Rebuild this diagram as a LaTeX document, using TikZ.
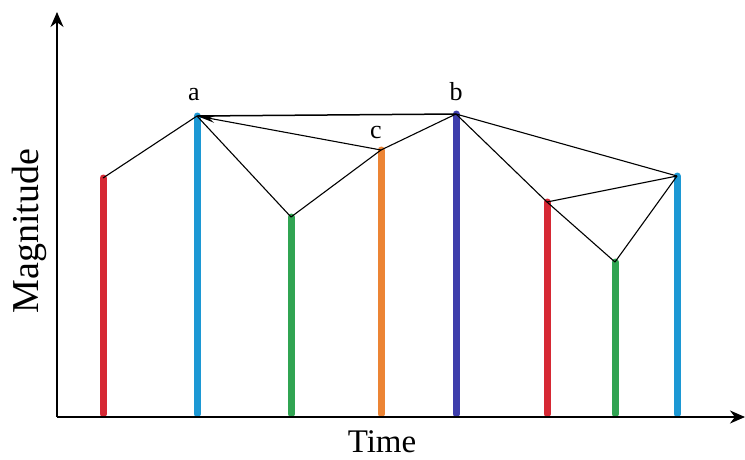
\documentclass[tikz,border=0pt]{standalone}
\usepackage{fontspec}
\setmainfont{Liberation Serif}
\usetikzlibrary{arrows.meta}

\definecolor{pred}{RGB}{214,40,52}
\definecolor{pblue}{RGB}{28,152,212}
\definecolor{pgreen}{RGB}{48,164,82}
\definecolor{porange}{RGB}{236,132,52}
\definecolor{pindigo}{RGB}{62,62,172}

\tikzset{
  axisline/.style={line width=1.4pt, -{Stealth[length=15pt,width=13pt]}},
  bar/.style={line width=7pt, line cap=round},
  link/.style={line width=1.1pt, black},
  lbl/.style={font=\fontsize{26}{26}\selectfont, inner sep=0pt, anchor=base},
}

\begin{document}
\begin{tikzpicture}[x=1pt, y=-1pt]
  \useasboundingbox (0,0) rectangle (745,459);

  % tops of the impulses
  \coordinate (p1) at (103,178);
  \coordinate (p2) at (197,116);
  \coordinate (p3) at (291,217);
  \coordinate (p4) at (381,150);
  \coordinate (p5) at (456,114);
  \coordinate (p6) at (547,202);
  \coordinate (p7) at (615,262);
  \coordinate (p8) at (677,176);

  % axes
  \coordinate (o) at (57,417);
  \coordinate (ytip) at (57,12);
  \coordinate (xtip) at (745,417);

  % impulses
  \foreach \p/\c in {p1/pred, p2/pblue, p3/pgreen, p4/porange,
                     p5/pindigo, p6/pred, p7/pgreen, p8/pblue} {
    \draw[bar, \c] (\p) -- (\p |- 0,414);
  }

  % links between the tops
  \draw[link] (p1) -- (p2);
  \draw[link, line width=1.5pt] (p2) -- (p5);
  \draw[link, -{Stealth[length=18pt,width=7pt]}] (p4) -- (p2);
  \draw[link] (p2) -- (p3);
  \draw[link] (p3) -- (p4);
  \draw[link] (p4) -- (p5);
  \draw[link] (p5) -- (p8);
  \draw[link] (p5) -- (p6);
  \draw[link] (p6) -- (p8);
  \draw[link] (p6) -- (p7);
  \draw[link] (p7) -- (p8);

  \draw[axisline] (o) -- (ytip);
  \draw[axisline] (o) -- (xtip);

  % labels
  \node[lbl] (la) at (194,100) {a};
  \node[lbl] (lb) at (456,100) {b};
  \node[lbl] (lc) at (376,138) {c};
  \node[font=\fontsize{33}{33}\selectfont, inner sep=0pt, anchor=base] (lt) at (382,452) {Time};
  \node[font=\fontsize{38}{38}\selectfont, inner sep=0pt, anchor=base, rotate=90] (lm) at (38,231) {Magnitude};
\end{tikzpicture}
\end{document}
